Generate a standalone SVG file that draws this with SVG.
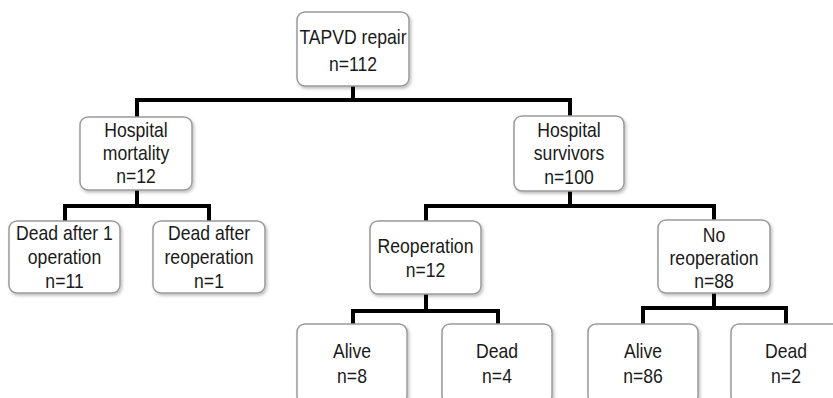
<svg xmlns="http://www.w3.org/2000/svg" width="833" height="398" viewBox="0 0 833 398">
<defs>
<filter id="sh" x="-10%" y="-10%" width="130%" height="130%">
<feDropShadow dx="1.5" dy="2" stdDeviation="1.5" flood-color="#000" flood-opacity="0.25"/>
</filter>
</defs>
<style>
.box{fill:#fff;stroke:#9a9a9a;stroke-width:1.5;filter:url(#sh)}
.t{font-family:"Liberation Sans",Arial,sans-serif;font-size:20px;fill:#1a1a1a;text-anchor:middle}
.c{fill:none;stroke:#000;stroke-width:4;stroke-linejoin:miter;stroke-linecap:butt}
</style>
<rect width="833" height="398" fill="#fff"/>
<g id="connectors">
<path class="c" d="M353 86V100M137 117V100H570V116"/>
<path class="c" d="M137 190V206M65 221V206H209V221"/>
<path class="c" d="M570 191V206M426 221V206H714V221"/>
<path class="c" d="M426 294V311M353 324V311H498V324"/>
<path class="c" d="M714 293V308M643 324V308H786V324"/>
</g>
<g id="n-root">
<rect class="box" x="297" y="12" width="112" height="74" rx="8"/>
<g transform="translate(353,0) scale(0.88,1)"><text class="t" x="0" y="44">TAPVD repair</text><text class="t" x="0" y="71">n=112</text></g>
</g>
<g id="n-mortality">
<rect class="box" x="80" y="117" width="112" height="73" rx="8"/>
<g transform="translate(136,0) scale(0.88,1)"><text class="t" x="0" y="137">Hospital</text><text class="t" x="0" y="160">mortality</text><text class="t" x="0" y="183">n=12</text></g>
</g>
<g id="n-survivors">
<rect class="box" x="514" y="116" width="110" height="75" rx="8"/>
<g transform="translate(569,0) scale(0.88,1)"><text class="t" x="0" y="137">Hospital</text><text class="t" x="0" y="160">survivors</text><text class="t" x="0" y="184">n=100</text></g>
</g>
<g id="n-dead1">
<rect class="box" x="9" y="221" width="111" height="72" rx="8"/>
<g transform="translate(64.5,0) scale(0.88,1)"><text class="t" x="0" y="240">Dead after 1</text><text class="t" x="0" y="264">operation</text><text class="t" x="0" y="288">n=11</text></g>
</g>
<g id="n-deadreop">
<rect class="box" x="153" y="221" width="112" height="72" rx="8"/>
<g transform="translate(209,0) scale(0.88,1)"><text class="t" x="0" y="240">Dead after</text><text class="t" x="0" y="264">reoperation</text><text class="t" x="0" y="288">n=1</text></g>
</g>
<g id="n-reop">
<rect class="box" x="370" y="221" width="111" height="73" rx="8"/>
<g transform="translate(425.5,0) scale(0.88,1)"><text class="t" x="0" y="253">Reoperation</text><text class="t" x="0" y="277">n=12</text></g>
</g>
<g id="n-noreop">
<rect class="box" x="658" y="220" width="112" height="73" rx="8"/>
<g transform="translate(714,0) scale(0.88,1)"><text class="t" x="0" y="242">No</text><text class="t" x="0" y="265">reoperation</text><text class="t" x="0" y="288">n=88</text></g>
</g>
<g id="n-alive8">
<rect class="box" x="297" y="324" width="110" height="80" rx="8"/>
<g transform="translate(352,0) scale(0.88,1)"><text class="t" x="0" y="358">Alive</text><text class="t" x="0" y="383">n=8</text></g>
</g>
<g id="n-dead4">
<rect class="box" x="442" y="324" width="110" height="80" rx="8"/>
<g transform="translate(497,0) scale(0.88,1)"><text class="t" x="0" y="358">Dead</text><text class="t" x="0" y="383">n=4</text></g>
</g>
<g id="n-alive86">
<rect class="box" x="588" y="324" width="110" height="80" rx="8"/>
<g transform="translate(643,0) scale(0.88,1)"><text class="t" x="0" y="358">Alive</text><text class="t" x="0" y="383">n=86</text></g>
</g>
<g id="n-dead2">
<rect class="box" x="731" y="324" width="110" height="80" rx="8"/>
<g transform="translate(786,0) scale(0.88,1)"><text class="t" x="0" y="358">Dead</text><text class="t" x="0" y="383">n=2</text></g>
</g>
</svg>
